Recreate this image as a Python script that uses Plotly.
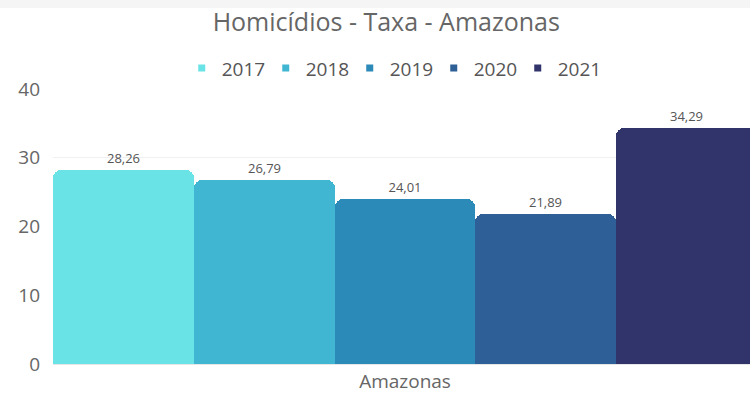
import plotly.graph_objects as go

categories = ["Amazonas"]
years = ["2017", "2018", "2019", "2020", "2021"]
values = [28.26, 26.79, 24.01, 21.89, 34.29]
colors = ["#6ae3e6", "#41b6d3", "#2b8ab8", "#2e5f96", "#31346b"]
y_ticks = [0, 10, 20, 30, 40]

fig = go.Figure()
for yr, v, c in zip(years, values, colors):
    fig.add_trace(go.Bar(
        x=categories, y=[v], name=yr, showlegend=False, legendgroup=yr,
        marker=dict(color=c, line=dict(width=0)),
        text=[f"{v:.2f}".replace(".", ",")],
        textposition="outside",
        textfont=dict(size=13, color="#555555", family="Open Sans"),
        cliponaxis=False,
    ))
# legend entries with small square symbols
for yr, c in zip(years, colors):
    fig.add_trace(go.Scatter(
        x=[None], y=[None], mode="markers", name=yr, legendgroup=yr,
        marker=dict(symbol="square", size=7, color=c),
    ))

fig.update_layout(
    width=750, height=394,
    margin=dict(l=53, r=0, t=89, b=27),
    paper_bgcolor="white", plot_bgcolor="white",
    barmode="group", bargap=0, bargroupgap=0,
    barcornerradius=8,
    font=dict(family="Open Sans", color="#666666"),
    title=dict(text="Homicídios - Taxa - Amazonas", x=0.515, xanchor="center",
               y=1 - 22 / 394, yanchor="middle",
               font=dict(size=25, color="#666666", family="Open Sans")),
    legend=dict(orientation="h", x=0.486, xanchor="center", y=1.0755, yanchor="middle",
                font=dict(size=19, color="#555555"), itemwidth=30, tracegroupgap=0,
                entrywidth=39, entrywidthmode="pixels"),
    showlegend=True,
    xaxis=dict(range=[-0.5, 0.49], showgrid=False, showline=True, linecolor="#e6e6e6",
               tickfont=dict(size=19, color="#666666"), ticks=""),
    yaxis=dict(range=[0, 40], tickvals=y_ticks, showgrid=True, gridcolor="#f0f0f0",
               zeroline=False, tickfont=dict(size=19, color="#666666"), ticklabelstandoff=12),
    shapes=[dict(type="rect", xref="paper", yref="paper", x0=-0.1, x1=1.1,
                 y0=1 + 82 / 278, y1=1.5, fillcolor="#f5f5f5", line=dict(width=0), layer="below")],
)

fig.write_html("out.html")
